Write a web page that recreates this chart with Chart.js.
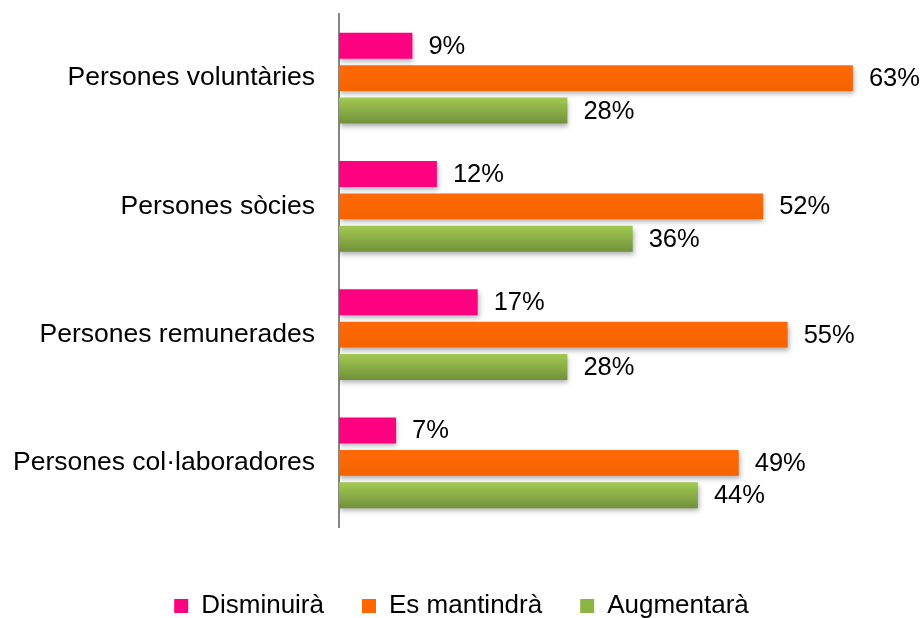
<!DOCTYPE html>
<html>
<head>
<meta charset="utf-8">
<script src="https://cdn.jsdelivr.net/npm/chart.js@4"></script>
<style>
  body { margin: 0; background: #fff; }
  #wrap { width: 923px; height: 618px; position: relative; }
</style>
</head>
<body>
<div id="wrap"><canvas id="myChart"></canvas></div>
<script>
// categories and series
const categories = ['Persones voluntàries', 'Persones sòcies', 'Persones remunerades', 'Persones col·laboradores'];
const seriesNames = ['Disminuirà', 'Es mantindrà', 'Augmentarà'];
const disminuira = [9, 12, 17, 7];
const esMantindra = [63, 52, 55, 49];
const augmentara = [28, 36, 28, 44];

const FONT = 'Liberation Sans, Arial, sans-serif';

// gradient per bar (orange and green bars) + soft shadow
const gradientBars = {
    id: 'gradientBars',
    beforeDatasetDraw(chart, args) {
        const ctx = chart.ctx;
        const stops = [null, ['#ff6a08', '#f56200'], ['#a2ca52', '#71903a']][args.index];
        if (stops) {
            args.meta.data.forEach(el => {
                const g = ctx.createLinearGradient(0, el.y - el.height / 2, 0, el.y + el.height / 2);
                g.addColorStop(0, stops[0]);
                g.addColorStop(1, stops[1]);
                el.options.backgroundColor = g;
            });
        }
        ctx.save();
        ctx.shadowColor = 'rgba(0,0,0,0.32)';
        ctx.shadowBlur = 5;
        ctx.shadowOffsetX = 1;
        ctx.shadowOffsetY = 3;
    },
    afterDatasetDraw(chart) {
        chart.ctx.restore();
    }
};

// value labels
const valueLabels = {
    id: 'valueLabels',
    afterDatasetsDraw(chart) {
        const ctx = chart.ctx;
        ctx.save();
        ctx.font = '25.5px ' + FONT;
        ctx.fillStyle = '#000';
        ctx.textAlign = 'left';
        ctx.textBaseline = 'middle';
        chart.data.datasets.forEach((ds, i) => {
            chart.getDatasetMeta(i).data.forEach((el, j) => {
                ctx.fillText(ds.data[j] + '%', el.x + 16, el.y + 1);
            });
        });
        ctx.restore();
    }
};

const ctx = document.getElementById('myChart').getContext('2d');
new Chart(ctx, {
    type: 'bar',
    data: {
        labels: categories,
        datasets: [
            { label: seriesNames[0], data: disminuira, backgroundColor: () => '#ff0080' },
            { label: seriesNames[1], data: esMantindra, backgroundColor: () => '#ff6600' },
            { label: seriesNames[2], data: augmentara, backgroundColor: () => '#8cb443' }
        ]
    },
    options: {
        indexAxis: 'y',
        responsive: true,
        maintainAspectRatio: false,
        animation: false,
        categoryPercentage: 0.76,
        barPercentage: 0.8,
        layout: { padding: { top: 14, left: 13, right: 13, bottom: -11 } },
        scales: {
            x: {
                display: true,
                min: 0,
                max: 70,
                grid: { display: false },
                border: { display: false },
                ticks: { display: false },
                afterFit(scale) {
                    scale.height = 28;
                    scale.paddingLeft = 0;
                    scale.paddingRight = 0;
                }
            },
            y: {
                grid: { display: false, drawTicks: false },
                border: { display: true, color: '#868686', width: 2 },
                ticks: {
                    color: '#000',
                    padding: 24,
                    font: { family: FONT, size: 26.5 }
                },
                afterFit(scale) {
                    scale.width = 326;
                    scale.paddingTop = 0;
                    scale.paddingBottom = 0;
                }
            }
        },
        plugins: {
            legend: {
                position: 'bottom',
                labels: {
                    color: '#000',
                    boxWidth: 14,
                    boxHeight: 14,
                    padding: 38,
                    font: { family: FONT, size: 26 },
                    generateLabels(chart) {
                        const cols = ['#ff0080', '#ff6600', '#8cb443'];
                        return seriesNames.map((n, i) => ({
                            text: n, fillStyle: cols[i], strokeStyle: cols[i],
                            lineWidth: 0, datasetIndex: i, hidden: false, fontColor: '#000'
                        }));
                    }
                }
            },
            tooltip: { enabled: false }
        }
    },
    plugins: [gradientBars, valueLabels]
});
</script>
</body>
</html>
